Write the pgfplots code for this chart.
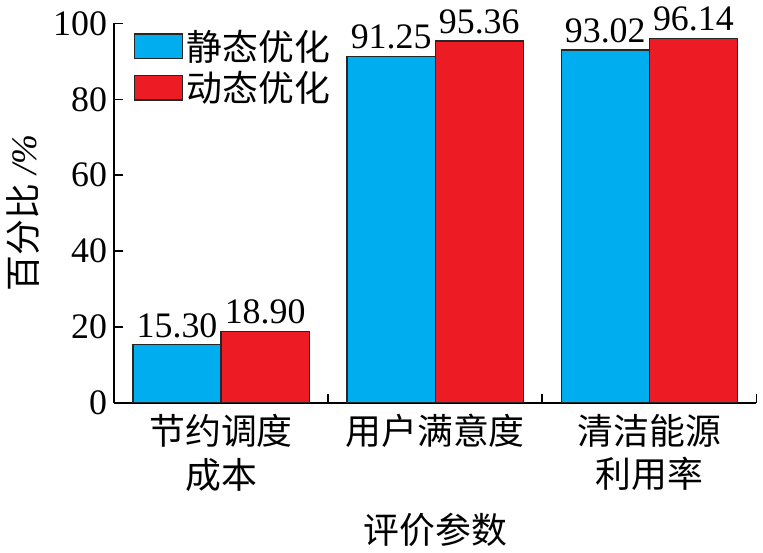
\documentclass[border=0pt]{standalone}
\usepackage{fontspec}
\setmainfont{Liberation Serif}
\newfontfamily\cjk{Noto Sans CJK SC}
\usepackage{pgfplots}
\pgfplotsset{compat=1.18}
\definecolor{cblue}{RGB}{0,174,239}
\definecolor{cred}{RGB}{237,28,36}
\begin{document}
\begin{tikzpicture}
\begin{axis}[
    scale only axis,
    width=322.5pt, height=190.5pt,
    ybar=0pt, bar width=44.25pt,
    xmin=-0.5, xmax=2.5,
    ymin=0, ymax=100,
    axis x line*=bottom, axis y line*=left,
    axis line style={-, line width=0.8pt},
    ytick={0,20,...,100},
    xtick={0.5,1.5,2.5},
    xticklabels={},
    extra x ticks={0,1,2},
    extra x tick labels={{节约调度\\成本},{用户满意度},{清洁能源\\利用率}},
    extra x tick style={major tick length=0pt,
        xticklabel style={align=center, font=\fontsize{18}{22}\selectfont\cjk, anchor=north, yshift=-2pt}},
    tick align=inside,
    major tick length=4.5pt,
    tick style={line width=0.8pt, black},
    yticklabel style={font=\fontsize{18}{20}\selectfont},
    /pgf/number format/assume math mode=true,
    ylabel={{\cjk 百分比} \textit{/\%}},
    ylabel style={font=\fontsize{18}{20}\selectfont},
    xlabel={评价参数},
    xlabel style={font=\fontsize{18}{20}\selectfont\cjk, yshift=-4pt},
    nodes near coords,
    nodes near coords style={font=\fontsize{18}{20}\selectfont, /pgf/number format/fixed, /pgf/number format/fixed zerofill, /pgf/number format/precision=2},
    legend style={draw=none, fill=none, at={(0.03,0.995)}, anchor=north west,
        font=\fontsize{18}{20}\selectfont\cjk, row sep=0pt, inner sep=0pt},
    legend cell align=left,
    legend image code/.code={\draw[#1] (0pt,-6.25pt) rectangle (24pt,6.25pt);},
]
\addplot[fill=cblue, draw=black!85, line width=0.6pt] coordinates {(0,15.30) (1,91.25) (2,93.02)};
\addlegendentry{静态优化}
\addplot[fill=cred, draw=black!85, line width=0.6pt] coordinates {(0,18.90) (1,95.36) (2,96.14)};
\addlegendentry{动态优化}
\end{axis}
\end{tikzpicture}
\end{document}
